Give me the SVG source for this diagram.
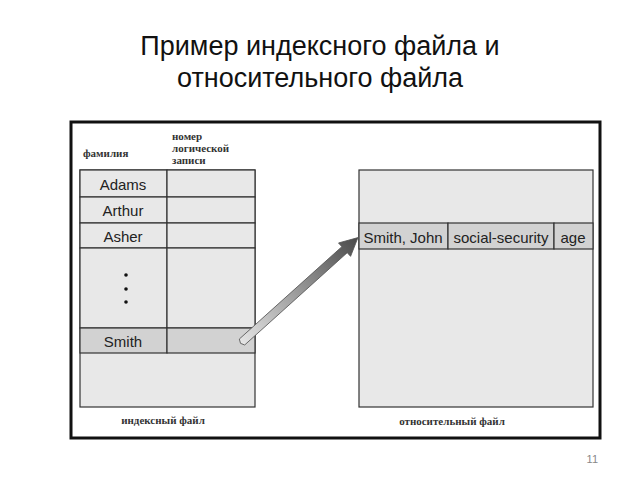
<svg xmlns="http://www.w3.org/2000/svg" width="640" height="480" viewBox="0 0 640 480">
<style>
.title{font-family:"Liberation Sans",Arial,sans-serif;font-size:27px;fill:#111;text-anchor:middle}
.cell{fill:#e8e8e8;stroke:#333;stroke-width:1.2}
.hl{fill:#d2d2d2;stroke:#333;stroke-width:1.2}
.t{font-family:"Liberation Sans",Arial,sans-serif;font-size:15px;fill:#222;text-anchor:middle}
.lbl{font-family:"Liberation Serif","Times New Roman",serif;font-size:11px;font-weight:bold;fill:#333}
</style>
<defs>
<linearGradient id="ag" x1="0" y1="0" x2="1" y2="0">
<stop offset="0" stop-color="#e6e6e6"/>
<stop offset="1" stop-color="#4a4a4a"/>
</linearGradient>
</defs>
<rect width="640" height="480" fill="#fff"/>
<text class="title" x="320" y="55">Пример индексного файла и</text>
<text class="title" x="320" y="87">относительного файла</text>
<rect x="71" y="122" width="529" height="316" fill="#fff" stroke="#111" stroke-width="3"/>
<g id="index-file">
<rect class="cell" x="80" y="170" width="175" height="237"/>
<rect class="cell" x="80" y="170" width="87" height="27"/>
<rect class="cell" x="167" y="170" width="88" height="27"/>
<rect class="cell" x="80" y="197" width="87" height="26"/>
<rect class="cell" x="167" y="197" width="88" height="26"/>
<rect class="cell" x="80" y="223" width="87" height="25"/>
<rect class="cell" x="167" y="223" width="88" height="25"/>
<rect class="cell" x="80" y="248" width="87" height="80"/>
<rect class="cell" x="167" y="248" width="88" height="80"/>
<rect class="hl" x="80" y="328" width="87" height="25"/>
<rect class="hl" x="167" y="328" width="88" height="25"/>
<text class="t" x="123" y="190">Adams</text>
<text class="t" x="123" y="216">Arthur</text>
<text class="t" x="123" y="242">Asher</text>
<circle cx="126" cy="275" r="1.8" fill="#111"/>
<circle cx="126" cy="289" r="1.8" fill="#111"/>
<circle cx="126" cy="302" r="1.8" fill="#111"/>
<text class="t" x="123" y="347">Smith</text>
<text class="lbl" x="83" y="157">фамилия</text>
<text class="lbl" x="172" y="140">номер</text>
<text class="lbl" x="172" y="152">логической</text>
<text class="lbl" x="172" y="164">записи</text>
<text class="lbl" x="163" y="424" text-anchor="middle">индексный файл</text>
</g>
<g id="relative-file">
<rect class="cell" x="359" y="170" width="234" height="237"/>
<rect class="hl" x="359" y="223" width="89" height="26"/>
<rect class="hl" x="448" y="223" width="106" height="26"/>
<rect class="hl" x="554" y="223" width="39" height="26"/>
<text class="t" x="403" y="243">Smith, John</text>
<text class="t" x="501" y="243">social-security</text>
<text class="t" x="573" y="243">age</text>
<text class="lbl" x="452" y="425" text-anchor="middle">относительный файл</text>
</g>
<g id="connectors">
<g transform="translate(242,342) rotate(-42)">
<polygon points="0,-4 138,-4 138,-9 156,0 138,9 138,4 0,4 -2,0" fill="url(#ag)" stroke="#555" stroke-width="0.8"/>
</g>
</g>
<text x="598" y="463" font-family="Liberation Sans,Arial,sans-serif" font-size="11" fill="#888" text-anchor="end">11</text>
</svg>
